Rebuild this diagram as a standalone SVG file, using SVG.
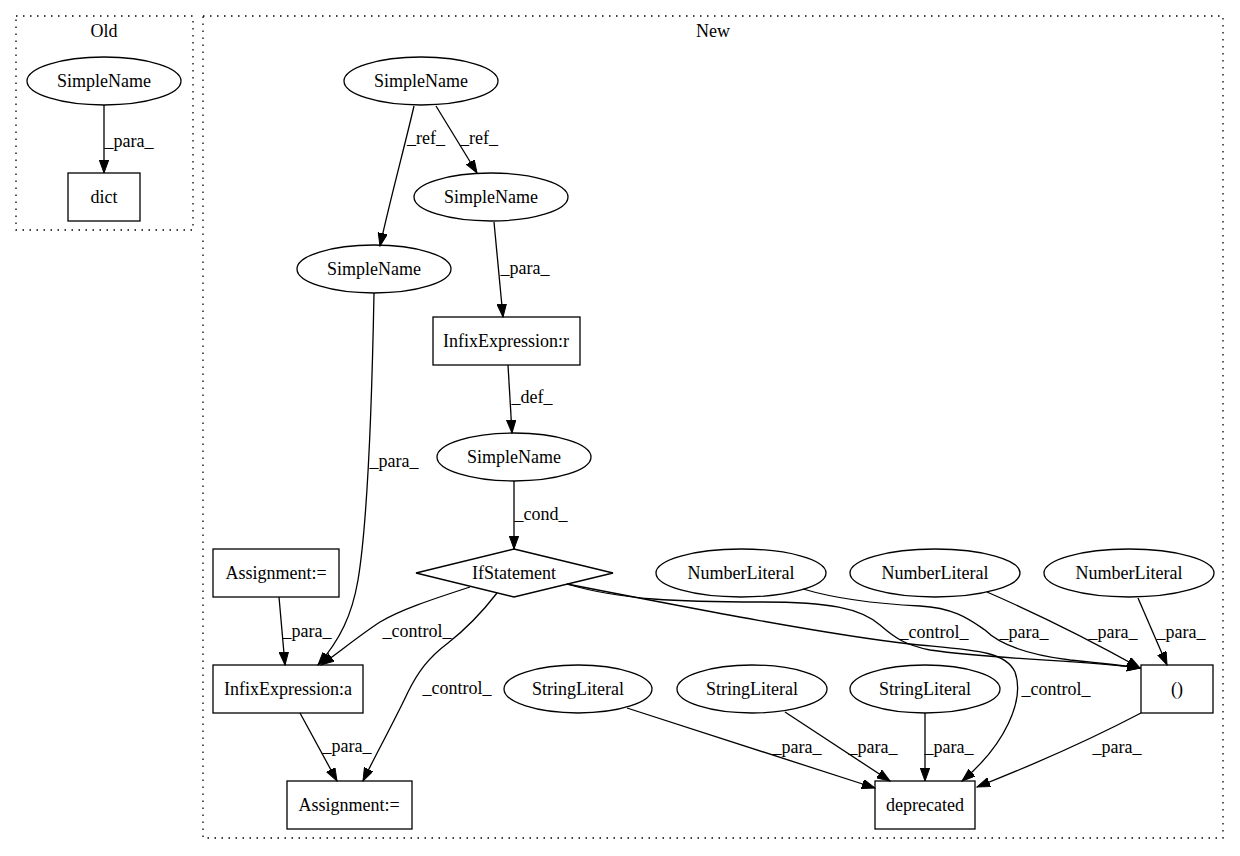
<svg xmlns="http://www.w3.org/2000/svg" width="1240" height="856" viewBox="0 0 1240 856">
<style>
text{font-family:"Liberation Serif","Times New Roman",serif;font-size:18px;fill:#000;text-anchor:middle}
.n{fill:none;stroke:#000;stroke-width:1.3}
.e{fill:none;stroke:#000;stroke-width:1.3;marker-end:url(#arr)}
.c{fill:none;stroke:#000;stroke-width:1.3;stroke-dasharray:1.5,5.5}
</style>
<defs>
<marker id="arr" markerUnits="userSpaceOnUse" markerWidth="14" markerHeight="10" refX="13" refY="4.7" orient="auto">
<path d="M0,0 L13,4.7 L0,9.4 Z" fill="#000" stroke="#000" stroke-width="1"/>
</marker>
</defs>
<rect x="0" y="0" width="1240" height="856" fill="#fff"/>
<g id="cluster_old">
<rect class="c" x="16" y="16" width="177" height="214"/>
<text x="104" y="37">Old</text>
</g>
<g id="cluster_new">
<rect class="c" x="203" y="16" width="1020" height="822"/>
<text x="713" y="37">New</text>
</g>
<g id="edges">
<path class="e" d="M104,105 L104,173"/>
<text x="129" y="147">_para_</text>
<path class="e" d="M414,106 C405,145 390,200 380,246"/>
<text x="426" y="144">_ref_</text>
<path class="e" d="M436,106 L477,173"/>
<text x="479" y="144">_ref_</text>
<path class="e" d="M494,222 L503,317"/>
<text x="525" y="274">_para_</text>
<path class="e" d="M508,365 L512,433"/>
<text x="532" y="403">_def_</text>
<path class="e" d="M514,481 L514,549"/>
<text x="541" y="520">_cond_</text>
<path class="e" d="M374,293 C372,400 368,520 358,580 C352,615 340,640 318,665"/>
<text x="394" y="467">_para_</text>
<path class="e" d="M279,597 L285,665"/>
<text x="307" y="637">_para_</text>
<path class="e" d="M470,587 C430,600 400,610 380,622 C360,635 342,650 321,665"/>
<text x="417" y="637">_control_</text>
<path class="e" d="M300,713 L337,781"/>
<text x="347" y="752">_para_</text>
<path class="e" d="M497,593 C480,615 462,632 448,643 C428,658 418,672 408,692 C395,720 378,750 363,781"/>
<text x="457" y="694">_control_</text>
<path class="e" d="M567,584 C620,600 680,602 760,602 C830,602 860,608 880,625 C895,638 905,645 930,650 C1000,660 1080,660 1140,668"/>
<text x="934" y="638">_control_</text>
<path class="e" d="M567,584 C700,610 830,635 910,644 C970,650 1005,650 1015,672 C1025,700 1005,745 962,781"/>
<text x="1056" y="695">_control_</text>
<path class="e" d="M803,589 C840,600 880,604 920,606 C955,608 970,620 985,630 C1000,645 1030,655 1070,660 C1100,663 1120,665 1140,668"/>
<text x="1024" y="638">_para_</text>
<path class="e" d="M987,592 C1040,615 1090,640 1140,668"/>
<text x="1113" y="638">_para_</text>
<path class="e" d="M1138,598 L1167,665"/>
<text x="1181" y="638">_para_</text>
<path class="e" d="M1141,713 C1080,745 1020,770 977,787"/>
<text x="1117" y="753">_para_</text>
<path class="e" d="M627,708 L875,788"/>
<text x="797" y="753">_para_</text>
<path class="e" d="M785,712 L890,781"/>
<text x="873" y="753">_para_</text>
<path class="e" d="M925,713 L925,781"/>
<text x="949" y="753">_para_</text>
</g>
<g id="old_simplename"><ellipse class="n" cx="104" cy="81" rx="77" ry="24"/><text x="104" y="87">SimpleName</text></g>
<g id="old_dict"><rect class="n" x="68" y="173" width="72" height="48"/><text x="104" y="203">dict</text></g>
<g id="sn_top"><ellipse class="n" cx="421" cy="81" rx="77" ry="24"/><text x="421" y="87">SimpleName</text></g>
<g id="sn_2"><ellipse class="n" cx="491" cy="197" rx="77" ry="24"/><text x="491" y="203">SimpleName</text></g>
<g id="sn_3"><ellipse class="n" cx="374" cy="269" rx="77" ry="24"/><text x="374" y="275">SimpleName</text></g>
<g id="infix_r"><rect class="n" x="433" y="317" width="147" height="48"/><text x="506" y="347">InfixExpression:r</text></g>
<g id="sn_4"><ellipse class="n" cx="514" cy="457" rx="77" ry="24"/><text x="514" y="463">SimpleName</text></g>
<g id="if_stmt"><polygon class="n" points="514,549 613,573 514,597 416,573"/><text x="514" y="579">IfStatement</text></g>
<g id="assign_top"><rect class="n" x="213" y="549" width="126" height="48"/><text x="276" y="579">Assignment:=</text></g>
<g id="infix_a"><rect class="n" x="213" y="665" width="150" height="48"/><text x="288" y="695">InfixExpression:a</text></g>
<g id="assign_bottom"><rect class="n" x="287" y="781" width="125" height="48"/><text x="349" y="811">Assignment:=</text></g>
<g id="num_1"><ellipse class="n" cx="741" cy="573" rx="85" ry="24"/><text x="741" y="579">NumberLiteral</text></g>
<g id="num_2"><ellipse class="n" cx="935" cy="573" rx="85" ry="24"/><text x="935" y="579">NumberLiteral</text></g>
<g id="num_3"><ellipse class="n" cx="1129" cy="573" rx="85" ry="24"/><text x="1129" y="579">NumberLiteral</text></g>
<g id="str_1"><ellipse class="n" cx="578" cy="689" rx="74" ry="24"/><text x="578" y="695">StringLiteral</text></g>
<g id="str_2"><ellipse class="n" cx="752" cy="689" rx="75" ry="24"/><text x="752" y="695">StringLiteral</text></g>
<g id="str_3"><ellipse class="n" cx="925" cy="689" rx="75" ry="24"/><text x="925" y="695">StringLiteral</text></g>
<g id="tuple"><rect class="n" x="1141" y="665" width="72" height="48"/><text x="1177" y="695">()</text></g>
<g id="deprecated"><rect class="n" x="875" y="781" width="100" height="48"/><text x="925" y="811">deprecated</text></g>
</svg>
